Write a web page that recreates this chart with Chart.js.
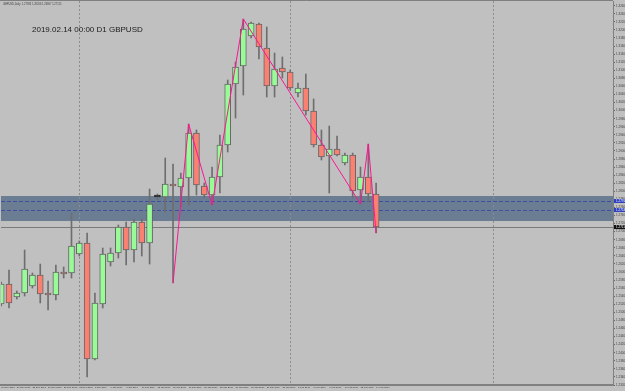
<!DOCTYPE html>
<html><head><meta charset="utf-8">
<script src="https://cdn.jsdelivr.net/npm/chart.js@4.4.1/dist/chart.umd.min.js"></script>
<style>html,body{margin:0;padding:0;background:#c0c0c0;overflow:hidden}canvas{display:block}</style>
</head><body>
<canvas id="c" width="625" height="391"></canvas>
<script>
const dates = ["18 Dec 2018","19 Dec 2018","20 Dec 2018","21 Dec 2018","23 Dec 2018","24 Dec 2018","26 Dec 2018","27 Dec 2018","28 Dec 2018","30 Dec 2018","31 Dec 2018",
"2 Jan 2019","3 Jan 2019","4 Jan 2019","6 Jan 2019","7 Jan 2019","8 Jan 2019","9 Jan 2019","10 Jan 2019","11 Jan 2019","13 Jan 2019","14 Jan 2019","15 Jan 2019","16 Jan 2019","17 Jan 2019","18 Jan 2019","20 Jan 2019","21 Jan 2019","22 Jan 2019","23 Jan 2019","24 Jan 2019","25 Jan 2019","27 Jan 2019","28 Jan 2019","29 Jan 2019","30 Jan 2019","31 Jan 2019",
"1 Feb 2019","3 Feb 2019","4 Feb 2019","5 Feb 2019","6 Feb 2019","7 Feb 2019","8 Feb 2019","10 Feb 2019","11 Feb 2019","12 Feb 2019","13 Feb 2019","14 Feb 2019"];
const opens  = [1.25207,1.25703,1.25380,1.25480,1.25653,1.25926,1.25455,1.25430,1.25975,1.25975,1.26446,1.26719,1.23844,1.25207,1.26248,1.26471,1.27115,1.26545,1.27239,1.26719,1.27859,1.27859,1.28156,1.28107,1.28330,1.29445,1.28131,1.27908,1.28354,1.29148,1.30659,1.31105,1.31849,1.32146,1.31552,1.30610,1.31056,1.30957,1.30436,1.30560,1.29990,1.29148,1.28875,1.29048,1.28701,1.28900,1.28032,1.28354,1.27933];
const highs  = [1.25752,1.26050,1.25529,1.26545,1.25975,1.26198,1.25777,1.26174,1.26124,1.27462,1.26768,1.26967,1.25480,1.26595,1.26595,1.27165,1.27239,1.27314,1.27314,1.28057,1.27933,1.28825,1.28677,1.28454,1.29668,1.29519,1.28206,1.28602,1.29395,1.30759,1.31205,1.32270,1.32196,1.32171,1.32072,1.31428,1.31329,1.31006,1.30684,1.30907,1.30288,1.29519,1.29618,1.29371,1.28949,1.28949,1.28602,1.29172,1.28206];
const lows   = [1.25157,1.25108,1.25331,1.25405,1.25603,1.25232,1.25058,1.25306,1.25851,1.25851,1.26397,1.23398,1.23819,1.25108,1.26149,1.26347,1.26174,1.26248,1.26397,1.26198,1.27785,1.27487,1.25727,1.27611,1.27661,1.27908,1.27834,1.27661,1.27958,1.28974,1.29817,1.30387,1.31799,1.31279,1.30337,1.30337,1.30808,1.30511,1.30337,1.29891,1.29098,1.28776,1.27958,1.28875,1.28652,1.27834,1.27685,1.27735,1.26967];
const closes = [1.25703,1.25232,1.25480,1.26074,1.25926,1.25455,1.25430,1.26000,1.25950,1.26644,1.26719,1.23844,1.25232,1.26446,1.26471,1.27115,1.26545,1.27239,1.26719,1.27685,1.27859,1.28181,1.28131,1.28330,1.29445,1.28156,1.27908,1.28354,1.29148,1.30659,1.31081,1.32022,1.32171,1.31576,1.30610,1.31031,1.30957,1.30560,1.30560,1.29990,1.29148,1.28850,1.29048,1.28900,1.28900,1.28008,1.28354,1.27933,1.27115];
const zigzagIdx = [22,24,27,31,46,47,48];
const zigzagVal = [1.25727,1.29668,1.27661,1.32270,1.27685,1.29172,1.26967];
const priceTicks = [1.3260,1.3240,1.3220,1.3200,1.3180,1.3160,1.3140,1.3120,1.3100,1.3080,1.3060,1.3040,1.3020,1.3000,1.2980,1.2960,1.2940,1.2920,1.2900,1.2880,1.2860,1.2840,1.2820,1.2800,1.2780,1.2760,1.2740,1.2720,1.2700,1.2680,1.2660,1.2640,1.2620,1.2600,1.2580,1.2560,1.2540,1.2520,1.2500,1.2480,1.2460,1.2440,1.2420,1.2400,1.2380,1.2360,1.2340,1.2320];
const gridIdx = [10,37,63];
const zoneTop = 1.27884, zoneBottom = 1.27264;
const levels = [1.27760, 1.27537];
const bidPrice = 1.27115;
const titleText = "2019.02.14 00:00 D1 GBPUSD";
const infoText = "GBPUSD,Daily  1.27933 1.28206 1.26967 1.27115";

const BG = '#c0c0c0';
const bodies = dates.map((d,i)=>({x:i, y:[opens[i], closes[i]]}));
const wicks = dates.map((d,i)=>({x:i, y:[lows[i], highs[i]]}));
const zig = zigzagIdx.map((ix,k)=>({x:ix, y:zigzagVal[k]}));
const bodyColors = dates.map((d,i)=> closes[i]>opens[i] ? '#98fb98' : (closes[i]<opens[i] ? '#fa8072' : '#2a2a2a'));
const bodyBorders = dates.map((d,i)=> closes[i]===opens[i] ? '#2a2a2a' : '#666666');

const mt4 = {
  id:'mt4',
  beforeDraw(chart){
    const c=chart.ctx; c.save(); c.fillStyle=BG; c.fillRect(0,0,chart.width,chart.height); c.restore();
  },
  beforeDatasetsDraw(chart){
    const c=chart.ctx, a=chart.chartArea, x=chart.scales.x, y=chart.scales.y;
    c.save();
    c.beginPath(); c.rect(a.left,a.top,a.right-a.left,a.bottom-a.top); c.clip();
    const yt=y.getPixelForValue(zoneTop), yb=y.getPixelForValue(zoneBottom);
    c.fillStyle='#6b7d93'; c.fillRect(a.left,yt,a.right-a.left,yb-yt);
    c.strokeStyle='#8c8c8c'; c.lineWidth=1; c.setLineDash([2,2]);
    gridIdx.forEach(i=>{const px=Math.round(x.getPixelForValue(i))+0.5; c.beginPath(); c.moveTo(px,a.top); c.lineTo(px,a.bottom); c.stroke();});
    c.strokeStyle='#3e4fa2'; c.setLineDash([4,2]);
    levels.forEach(v=>{const py=Math.round(y.getPixelForValue(v))+0.5; c.beginPath(); c.moveTo(a.left,py); c.lineTo(a.right,py); c.stroke();});
    c.setLineDash([]);
    c.strokeStyle='#7a7a7a';
    const pb=Math.round(y.getPixelForValue(bidPrice))+0.5; c.beginPath(); c.moveTo(a.left,pb); c.lineTo(a.right,pb); c.stroke();
    c.restore();
  },
  afterDraw(chart){
    const c=chart.ctx, a=chart.chartArea, y=chart.scales.y;
    c.save();
    c.strokeStyle='#7f7f7f'; c.lineWidth=1;
    c.beginPath(); c.moveTo(0,0.5); c.lineTo(a.right,0.5); c.stroke();
    c.fillStyle='#1a1a1a'; c.font='8px "Liberation Sans", Arial, sans-serif'; c.textBaseline='alphabetic';
    c.fillText(titleText, 32, 32);
    c.fillStyle='#404040'; c.font='2.6px "Liberation Sans", Arial, sans-serif'; c.textBaseline='middle';
    c.fillText(infoText, 3, 4);
    const tags=[[levels[0],'#2f3fc0'],[levels[1],'#2f3fc0'],[bidPrice,'#101010']];
    tags.forEach(([v,col])=>{
      const py=y.getPixelForValue(v);
      c.fillStyle=col; c.fillRect(a.right+1,py-2,chart.width-a.right-1,4);
      c.fillStyle='#ffffff'; c.font='3px "Liberation Sans", Arial, sans-serif'; c.textBaseline='middle';
      c.fillText(v.toFixed(5), a.right+3, py);
    });
    c.restore();
  }
};

new Chart(document.getElementById('c'), {
  type:'bar',
  data:{datasets:[
    {type:'line', data:zig, borderColor:'#ff1493', borderWidth:1, pointRadius:0, tension:0, order:0},
    {type:'bar', data:bodies, backgroundColor:bodyColors, borderColor:bodyBorders, borderWidth:1, borderSkipped:false, barThickness:6, minBarLength:2, grouped:false, order:1},
    {type:'bar', data:wicks, backgroundColor:'#6e6e6e', borderWidth:0, barThickness:1, grouped:false, order:2}
  ]},
  options:{
    responsive:false, animation:false, devicePixelRatio:1,
    layout:{padding:{top:1,left:1,right:0,bottom:0}},
    plugins:{legend:{display:false}, tooltip:{enabled:false}},
    scales:{
      x:{type:'linear', min:-0.025, max:78.33, offset:false,
         afterBuildTicks(s){ s.ticks = dates.map((d,i)=>({value:i})).filter(t=>t.value%2===0); },
         afterFit(s){ s.height=6; s.paddingLeft=0; s.paddingRight=0; },
         grid:{display:false, drawTicks:false, tickLength:0, offset:false}, border:{display:true, color:'#808080', width:2},
         ticks:{autoSkip:false, maxRotation:0, minRotation:0, align:'start', padding:1, color:'#303030', font:{size:2.4, family:'"Liberation Sans", Arial'}, callback:(v)=>dates[v]}},
      y:{type:'linear', position:'right', min:1.2320, max:1.327165,
         afterBuildTicks(s){ s.ticks = priceTicks.map(v=>({value:v})); },
         afterFit(s){ s.width=12; s.paddingTop=0; s.paddingBottom=0; },
         grid:{drawOnChartArea:false, drawTicks:true, tickLength:2, color:'#6a6a6a'}, border:{display:true, color:'#808080'},
         ticks:{padding:1, color:'#404040', font:{size:3, family:'"Liberation Sans", Arial'}, callback:(v)=>v.toFixed(5)}}
    }
  },
  plugins:[mt4]
});
</script>
</body></html>
